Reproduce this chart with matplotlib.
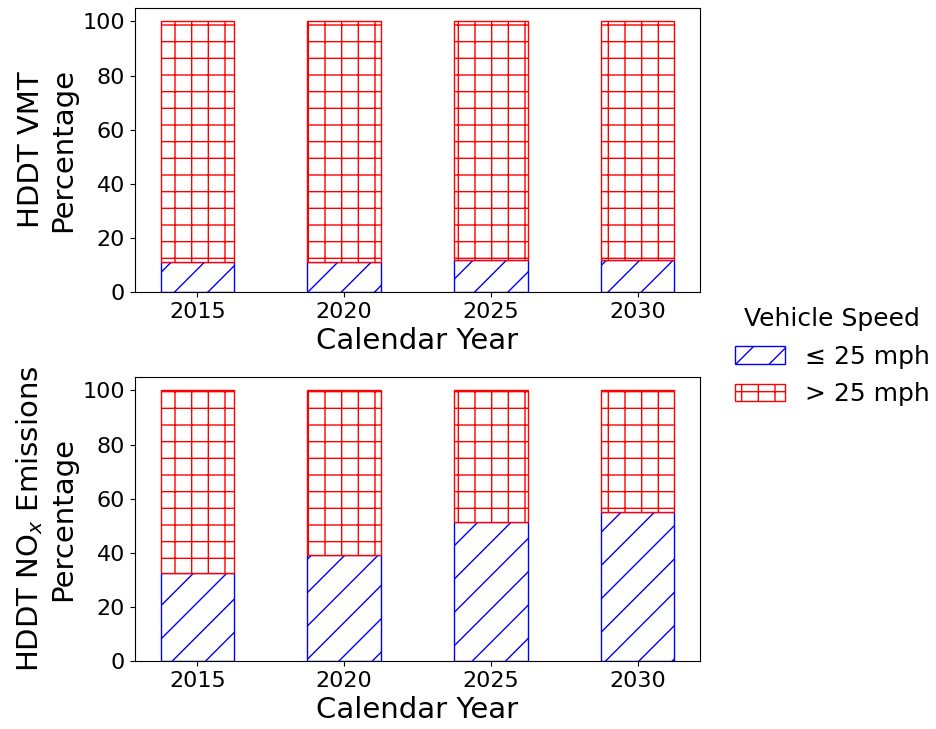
import matplotlib
matplotlib.use('Agg')
import matplotlib.pyplot as plt
import numpy as np

years = ['2015', '2020', '2025', '2030']
# share of HDDT VMT at low speed (%)
vmt_low = [11.1, 11.1, 11.7, 11.7]
vmt_high = [100 - v for v in vmt_low]
# share of HDDT NOx emissions at low speed (%)
nox_low = [32.6, 39.1, 51.2, 55.1]
nox_high = [100 - v for v in nox_low]

x = np.arange(len(years))
width = 0.5

fig = plt.figure(figsize=(9.37, 7.29), dpi=100)
ax1 = fig.add_axes([0.144, 0.5995, 0.603, 0.3896])
ax2 = fig.add_axes([0.144, 0.0933, 0.603, 0.3896])

for ax, low, high, ylab in [(ax1, vmt_low, vmt_high, 'HDDT VMT\nPercentage'),
                            (ax2, nox_low, nox_high, 'HDDT NO$_x$ Emissions\nPercentage')]:
    b1 = ax.bar(x, low, width, color='white', edgecolor='blue', hatch='/',
                label='\u2264 25 mph')
    b2 = ax.bar(x, high, width, bottom=low, color='white', edgecolor='red',
                hatch='+', label='> 25 mph')
    ax.set_xticks(x)
    ax.set_xticklabels(years)
    ax.set_yticks([0, 20, 40, 60, 80, 100])
    ax.tick_params(labelsize=16)
    ax.set_xlabel('Calendar Year', fontsize=21)
    ax.set_ylabel(ylab, fontsize=21)

handles, labels = ax1.get_legend_handles_labels()
leg = fig.legend(handles, labels, title='Vehicle Speed', loc='upper left',
                 bbox_to_anchor=(0.760, 0.610), frameon=False, fontsize=18,
                 title_fontsize=18, labelspacing=0.55)

fig.savefig('out.png', dpi=100)
